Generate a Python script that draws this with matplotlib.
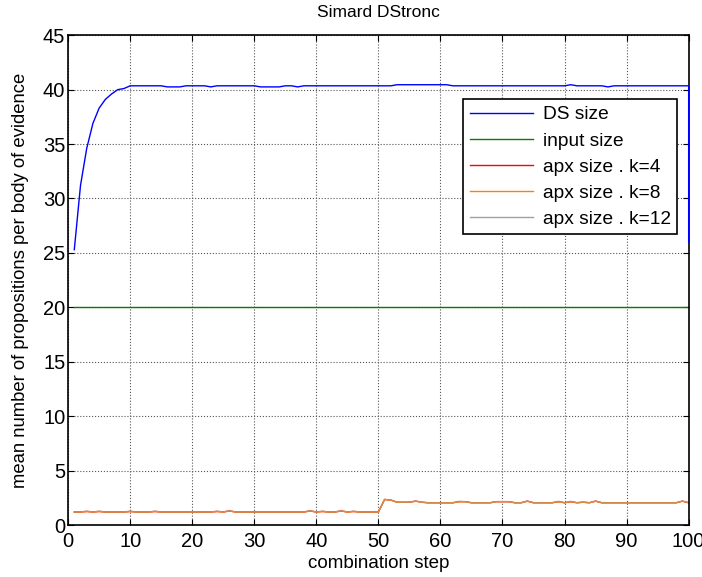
import numpy as np
import matplotlib.pyplot as plt

plt.rcParams['font.family'] = ['Liberation Sans', 'DejaVu Sans']
plt.rcParams['font.size'] = 13.5

steps = np.arange(1, 101)
# the DS curve ends with a drop drawn at the last step
ds_steps = np.append(steps, 100)

# DS size (mean number of propositions)
ds_size = [25.3, 31.2, 34.6, 36.9, 38.3, 39.1, 39.6, 40.0, 40.1, 40.35,
           40.35, 40.35, 40.35, 40.35, 40.35, 40.25, 40.25, 40.25, 40.35, 40.35,
           40.35, 40.35, 40.25, 40.35, 40.35, 40.35, 40.35, 40.35, 40.35, 40.35,
           40.25, 40.25, 40.25, 40.25, 40.35, 40.35, 40.25, 40.35, 40.35, 40.35,
           40.35, 40.35, 40.35, 40.35, 40.35, 40.35, 40.35, 40.35, 40.35, 40.35,
           40.35, 40.35, 40.45, 40.45, 40.45, 40.45, 40.45, 40.45, 40.45, 40.45,
           40.45, 40.35, 40.35, 40.35, 40.35, 40.35, 40.35, 40.35, 40.35, 40.35,
           40.35, 40.35, 40.35, 40.35, 40.35, 40.35, 40.35, 40.35, 40.35, 40.35,
           40.45, 40.35, 40.35, 40.35, 40.35, 40.35, 40.25, 40.35, 40.35, 40.35,
           40.35, 40.35, 40.35, 40.35, 40.35, 40.35, 40.35, 40.35, 40.35, 40.35,
           26.0]

# input size is constant
input_size = [20.0] * 100

# approximated sizes (k=4 and k=8 overlap)
apx_k4 = [1.2, 1.2, 1.25, 1.2, 1.25, 1.2, 1.2, 1.2, 1.2, 1.25,
          1.2, 1.2, 1.2, 1.25, 1.2, 1.2, 1.2, 1.2, 1.2, 1.2,
          1.2, 1.2, 1.2, 1.25, 1.2, 1.3, 1.2, 1.2, 1.2, 1.2,
          1.2, 1.2, 1.2, 1.2, 1.2, 1.2, 1.2, 1.2, 1.3, 1.2,
          1.25, 1.2, 1.2, 1.3, 1.2, 1.25, 1.2, 1.2, 1.2, 1.2,
          2.35, 2.3, 2.1, 2.1, 2.1, 2.2, 2.1, 2.05, 2.05, 2.05,
          2.05, 2.05, 2.15, 2.15, 2.05, 2.05, 2.05, 2.05, 2.15, 2.15,
          2.15, 2.05, 2.05, 2.2, 2.05, 2.05, 2.05, 2.05, 2.15, 2.05,
          2.15, 2.05, 2.1, 2.05, 2.2, 2.05, 2.05, 2.05, 2.05, 2.05,
          2.05, 2.05, 2.05, 2.05, 2.05, 2.05, 2.05, 2.05, 2.2, 2.05]
apx_k8 = list(apx_k4)
apx_k12 = [1.2, 1.2, 1.3, 1.2, 1.3, 1.2, 1.2, 1.2, 1.2, 1.3,
           1.2, 1.2, 1.2, 1.3, 1.2, 1.2, 1.2, 1.2, 1.2, 1.2,
           1.2, 1.2, 1.2, 1.3, 1.2, 1.35, 1.2, 1.2, 1.2, 1.2,
           1.2, 1.2, 1.2, 1.2, 1.2, 1.2, 1.2, 1.2, 1.35, 1.2,
           1.3, 1.2, 1.2, 1.35, 1.2, 1.3, 1.2, 1.2, 1.2, 1.2,
           2.35, 2.3, 2.1, 2.1, 2.1, 2.2, 2.1, 2.05, 2.05, 2.05,
           2.05, 2.05, 2.2, 2.15, 2.05, 2.05, 2.05, 2.05, 2.15, 2.15,
           2.15, 2.05, 2.05, 2.2, 2.05, 2.05, 2.05, 2.05, 2.2, 2.05,
           2.2, 2.05, 2.15, 2.05, 2.2, 2.05, 2.05, 2.05, 2.05, 2.05,
           2.05, 2.05, 2.05, 2.05, 2.05, 2.05, 2.05, 2.05, 2.2, 2.05]

fig = plt.figure(figsize=(7.02, 5.77), dpi=100)
ax = fig.add_axes([0.097, 0.090, 0.884, 0.849])

ax.plot(ds_steps, ds_size, color='#0000ff', lw=1, label='DS size', clip_on=False, zorder=3)
ax.plot(steps, input_size, color='#008000', lw=1, label='input size')
ax.plot(steps, apx_k4, color='#ff0000', lw=1, label='apx size . k=4')
ax.plot(steps, apx_k8, color='#ff8000', lw=1, label='apx size . k=8')
ax.plot(steps, apx_k12, color='#a0a0a0', lw=1, alpha=0.5, label='apx size . k=12')

ax.set_xlim(0, 100)
ax.set_ylim(0, 45)
ax.set_xticks(np.arange(0, 101, 10))
ax.set_yticks(np.arange(0, 46, 5))
ax.tick_params(direction='in', top=True, right=True, labelsize=14.5, length=4)
ax.tick_params(axis='x', pad=5)
ax.tick_params(axis='y', pad=2)
ax.grid(True, linestyle=':', color='#555555', linewidth=0.8)
for sp in ax.spines.values():
    sp.set_linewidth(1.2)

ax.set_title('Simard DStronc', fontsize=12.5, pad=13)
ax.set_xlabel('combination step', fontsize=13.5, labelpad=3)
ax.set_ylabel('mean number of propositions per body of evidence', fontsize=13.3, labelpad=10)

leg = ax.legend(loc='upper right', bbox_to_anchor=(0.982, 0.869), fontsize=13.8,
                handlelength=3.3, handletextpad=0.5, labelspacing=0.45, borderpad=0.35,
                borderaxespad=0, fancybox=False, framealpha=1, edgecolor='black')
leg.get_frame().set_linewidth(1.2)
leg.set_zorder(5)
for h in leg.get_lines():
    h.set_alpha(1)

fig.savefig('out.png', dpi=100)
